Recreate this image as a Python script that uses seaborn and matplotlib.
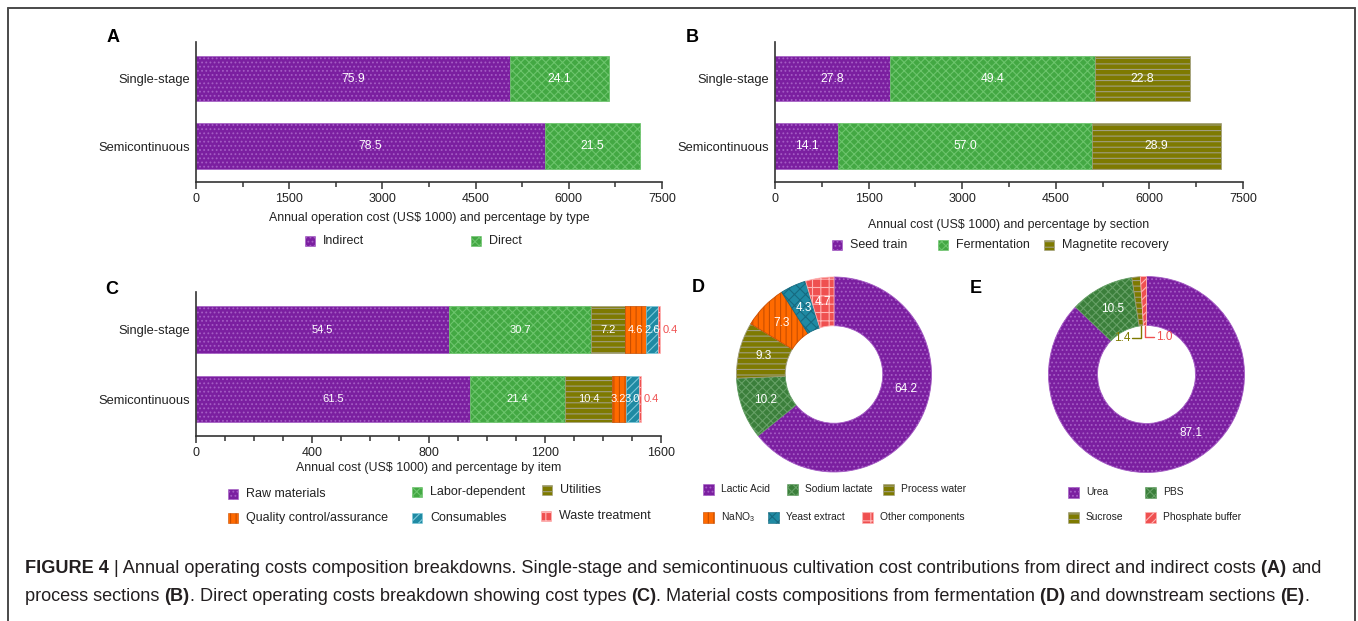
import numpy as np
import matplotlib
matplotlib.use("Agg")
import matplotlib.pyplot as plt
import matplotlib.patches as mpatches
from matplotlib.lines import Line2D
import seaborn as sns

# ---------------- data ----------------
modes = ["Single-stage", "Semicontinuous"]

# (A) annual operating cost by type, US$ 1000 and percentage shares
type_labels = ["Indirect", "Direct"]
type_totals = [6650, 7150]
type_indirect = [75.9, 78.5]
type_direct = [24.1, 21.5]

# (B) annual cost by process section
section_labels = ["Seed train", "Fermentation", "Magnetite recovery"]
section_totals = [6650, 7150]
section_seed = [27.8, 14.1]
section_ferm = [49.4, 57.0]
section_magn = [22.8, 28.9]

# (C) direct operating cost by item
item_labels = ["Raw materials", "Labor-dependent", "Utilities",
               "Quality control/assurance", "Consumables", "Waste treatment"]
item_totals = [1597, 1533]
item_raw = [54.5, 61.5]
item_labor = [30.7, 21.4]
item_util = [7.2, 10.4]
item_qc = [4.6, 3.2]
item_cons = [2.6, 3.0]
item_waste = [0.4, 0.4]

# (D) fermentation material costs, %
ferm_labels = ["Lactic Acid", "Sodium lactate", "Process water",
               "NaNO$_3$", "Yeast extract", "Other components"]
ferm_pct = [64.2, 10.2, 9.3, 7.3, 4.3, 4.7]

# (E) downstream material costs, %
down_labels = ["Urea", "PBS", "Sucrose", "Phosphate buffer"]
down_pct = [87.1, 10.5, 1.4, 1.0]

# ---------------- style ----------------
sns.set_style("ticks")
plt.rcParams["font.family"] = ["Liberation Sans", "DejaVu Sans"]
plt.rcParams["mathtext.fontset"] = "custom"
plt.rcParams["mathtext.rm"] = "Liberation Sans"
plt.rcParams["mathtext.it"] = "Liberation Sans:italic"
plt.rcParams["hatch.linewidth"] = 0.8
plt.rcParams["axes.edgecolor"] = "#333333"
plt.rcParams["xtick.color"] = "#333333"
plt.rcParams["xtick.labelcolor"] = "#222222"
plt.rcParams["ytick.labelcolor"] = "#222222"

PURPLE = ("#7b1fa0", "....", "#a45cc4")
GREEN = ("#43a843", "xxxx", "#6cc46c")
OLIVE = ("#7e7a00", "---", "#a09e80")
ORANGE = ("#ff6a00", "|||", "#c84e00")
TEAL = ("#1f8aa3", "////", "#7cc8da")
RED = ("#ef5050", "++", "#ffb4b4")
DKGREEN = ("#3b7f3b", "xxxx", "#66a066")
TEAL_D = ("#1f8aa3", "xxx", "#176a80")
RED_D = ("#ef5050", "////", "#ffb4b4")

W, H = 1358, 621
fig = plt.figure(figsize=(W / 100, H / 100), dpi=100)


def fx(px):
    return px / W


def fy(py):
    return 1 - py / H


def axes_px(left, top, right, bottom):
    return fig.add_axes([fx(left), fy(bottom), (right - left) / W, (bottom - top) / H])


def stacked_bars(ax, shares, totals, styles, outside_last=False, fs=8.8):
    left = np.zeros(len(modes))
    totals = np.asarray(totals, float)
    n = len(shares)
    for k, (pct, style) in enumerate(zip(shares, styles)):
        pct = np.asarray(pct, float)
        vals = pct / 100 * totals
        fc, hatch, hc = style
        sns.barplot(x=vals, y=modes, orient="h", color=fc, saturation=1,
                    width=0.67, errorbar=None, left=left, hatch=hatch,
                    edgecolor=hc, linewidth=0.5, ax=ax)
        for i in range(len(modes)):
            if outside_last and k == n - 1:
                ax.annotate(f"{pct[i]:.1f}", xy=(left[i] + vals[i], i), xytext=(1.5, 0),
                            textcoords="offset points", ha="left", va="center",
                            color=fc, fontsize=fs)
            else:
                ax.text(left[i] + vals[i] / 2, i, f"{pct[i]:.1f}", ha="center",
                        va="center", color="white", fontsize=fs)
        left = left + vals


def style_bar_axes(ax, xmax, major, minor, xlabel, labelpad):
    ax.set_xlim(0, xmax)
    ax.set_ylim(1.53, -0.54)
    ax.set_xticks(np.arange(0, xmax + 1, major))
    ax.set_xticks(np.arange(0, xmax + 1, minor), minor=True)
    sns.despine(ax=ax)
    ax.spines["left"].set_linewidth(1.2)
    ax.spines["bottom"].set_linewidth(1.2)
    ax.tick_params(axis="y", length=0, pad=4, labelsize=9.3)
    ax.tick_params(axis="x", which="major", length=5, width=1.1, labelsize=9.0, pad=3)
    ax.tick_params(axis="x", which="minor", length=3.5, width=1.1)
    ax.set_ylabel("")
    ax.set_xlabel(xlabel, fontsize=8.9, labelpad=labelpad, color="#222222")


def legend_item(x, y, label, style, size=9, fs=9.0, gap=8):
    fc, hatch, hc = style
    fig.add_artist(mpatches.Rectangle((fx(x), fy(y + size / 2)), size / W, size / H,
                                      transform=fig.transFigure, facecolor=fc,
                                      hatch=hatch, edgecolor=hc, linewidth=0.4))
    fig.text(fx(x + size + gap), fy(y), label, fontsize=fs, va="center", ha="left",
             color="#222222")


# ---------------- (A) ----------------
axA = axes_px(196, 42, 662, 182)
stacked_bars(axA, [type_indirect, type_direct], type_totals, [PURPLE, GREEN])
style_bar_axes(axA, 7500, 1500, 750,
               "Annual operation cost (US$ 1000) and percentage by type", 5)
legend_item(305, 241, type_labels[0], PURPLE, size=10)
legend_item(471, 241, type_labels[1], GREEN, size=10)

# ---------------- (B) ----------------
axB = axes_px(775, 42, 1243, 182)
stacked_bars(axB, [section_seed, section_ferm, section_magn], section_totals,
             [PURPLE, GREEN, OLIVE])
style_bar_axes(axB, 7500, 1500, 750,
               "Annual cost (US$ 1000) and percentage by section", 10)
legend_item(832, 245, section_labels[0], PURPLE, size=10)
legend_item(938, 245, section_labels[1], GREEN, size=10)
legend_item(1044, 245, section_labels[2], OLIVE, size=10)

# ---------------- (C) ----------------
axC = axes_px(196, 292, 661, 436)
stacked_bars(axC, [item_raw, item_labor, item_util, item_qc, item_cons, item_waste],
             item_totals, [PURPLE, GREEN, OLIVE, ORANGE, TEAL, RED],
             outside_last=True, fs=8.0)
style_bar_axes(axC, 1600, 400, 100,
               "Annual cost (US$ 1000) and percentage by item", 2)
c_styles = [PURPLE, GREEN, OLIVE, ORANGE, TEAL, RED]
c_pos = [(228, 494), (412, 492), (542, 490), (228, 518), (412, 518), (541, 516)]
for lab, st, (x, y) in zip(item_labels, c_styles, c_pos):
    legend_item(x, y, lab, st, size=10, fs=9.0, gap=8)


# ---------------- donuts ----------------
def donut(ax, pct, styles):
    wedges, _ = ax.pie(pct, startangle=90, counterclock=False, radius=1,
                       wedgeprops=dict(width=0.5, linewidth=0.6))
    for w, (fc, hatch, hc) in zip(wedges, styles):
        w.set_facecolor(fc)
        w.set_hatch(hatch)
        w.set_edgecolor(hc)
    ax.set_xlim(-1.02, 1.02)
    ax.set_ylim(-1.02, 1.02)
    ax.set_aspect("equal")
    ax.axis("off")
    return wedges


def label_angle(w, p):
    # the dominant slice carries its label a little ahead of its midpoint
    mid = (w.theta1 + w.theta2) / 2
    if p > 50:
        mid += 14
    return np.deg2rad(mid)


# (D)
cxD, cyD, rD = 834, 374.5, 97.5
axD = axes_px(cxD - rD * 1.02, cyD - rD * 1.02, cxD + rD * 1.02, cyD + rD * 1.02)
d_styles = [PURPLE, DKGREEN, OLIVE, ORANGE, TEAL_D, RED]
wD = donut(axD, ferm_pct, d_styles)
for w, p in zip(wD, ferm_pct):
    a = label_angle(w, p)
    axD.text(0.75 * np.cos(a), 0.75 * np.sin(a), f"{p:.1f}", ha="center",
             va="center", color="white", fontsize=8.5)
d_pos = [(703, 489), (787, 489), (883, 489), (703, 517), (768, 517), (862, 517)]
for lab, st, (x, y) in zip(ferm_labels, d_styles, d_pos):
    legend_item(x, y, lab, st, size=11, fs=7.4, gap=7)

# (E)
cxE, cyE, rE = 1146.5, 374.5, 98
axE = axes_px(cxE - rE * 1.02, cyE - rE * 1.02, cxE + rE * 1.02, cyE + rE * 1.02)
e_styles = [PURPLE, DKGREEN, OLIVE, RED_D]
wE = donut(axE, down_pct, e_styles)
for k, (w, p) in enumerate(zip(wE, down_pct)):
    if p >= 5:
        a = label_angle(w, p)
        axE.text(0.75 * np.cos(a), 0.75 * np.sin(a), f"{p:.1f}", ha="center",
                 va="center", color="white", fontsize=8.5)
    else:
        # small slices: label inside the hole with an elbow leader
        a = np.deg2rad((w.theta1 + w.theta2) / 2)
        col = e_styles[k][0]
        x0, y0 = 0.5 * np.cos(a), 0.5 * np.sin(a)
        y1 = y0 - 0.12
        side = -1 if k == 2 else 1
        x1 = x0 + side * 0.09
        axE.plot([x0, x0, x1], [y0, y1, y1], color=col, lw=1.0)
        axE.text(x1 + side * 0.02, y1, f"{p:.1f}", ha="right" if side < 0 else "left",
                 va="center", color=col, fontsize=8.5)
e_pos = [(1068, 492), (1145, 492), (1068, 517), (1145, 517)]
for lab, st, (x, y) in zip(down_labels, e_styles, e_pos):
    legend_item(x, y, lab, st, size=11, fs=7.4, gap=7)

# ---------------- panel letters ----------------
for letter, x, y in [("A", 107, 37), ("B", 686, 38), ("C", 105, 289),
                     ("D", 692, 287), ("E", 970, 288)]:
    fig.text(fx(x), fy(y), letter, fontsize=13, fontweight="bold", va="center",
             ha="left", color="black")

# ---------------- frame ----------------
frame_kw = dict(transform=fig.transFigure, color="#4a4a4a", lw=1.4)
fig.add_artist(Line2D([fx(8), fx(1355)], [fy(8), fy(8)], **frame_kw))
fig.add_artist(Line2D([fx(8), fx(8)], [fy(8), 0], **frame_kw))
fig.add_artist(Line2D([fx(1355), fx(1355)], [fy(8), 0], **frame_kw))

# ---------------- caption ----------------
cap_color = "#231f20"
line1 = [("FIGURE 4 ", "bold"),
         ("| Annual operating costs composition breakdowns. Single-stage and semicontinuous "
          "cultivation cost contributions from direct and indirect costs ", "normal"),
         ("(A) ", "bold"), ("and", "normal")]
line2 = [("process sections ", "normal"), ("(B)", "bold"),
         (". Direct operating costs breakdown showing cost types ", "normal"),
         ("(C)", "bold"),
         (". Material costs compositions from fermentation ", "normal"),
         ("(D) ", "bold"), ("and downstream sections ", "normal"), ("(E)", "bold"),
         (".", "normal")]

renderer = fig.canvas.get_renderer()


def run_width(s, size, weight):
    t1 = fig.text(0, 0, "x" + s + "x", fontsize=size, fontweight=weight)
    t2 = fig.text(0, 0, "xx", fontsize=size, fontweight=weight)
    w = t1.get_window_extent(renderer).width - t2.get_window_extent(renderer).width
    t1.remove()
    t2.remove()
    return w


def line_width(runs, size):
    return sum(run_width(s, size, wt) for s, wt in runs)


cap_size = 12 * 1306 / line_width(line1, 12)


def draw_line(runs, x_px, y_px, size):
    x = x_px
    for s, wt in runs:
        fig.text(fx(x), fy(y_px), s, fontsize=size, fontweight=wt, va="baseline",
                 ha="left", color=cap_color)
        x += run_width(s, size, wt)


draw_line(line1, 25, 573, cap_size)
draw_line(line2, 25, 601, cap_size)

fig.savefig("out.png", dpi=100, facecolor="white")
